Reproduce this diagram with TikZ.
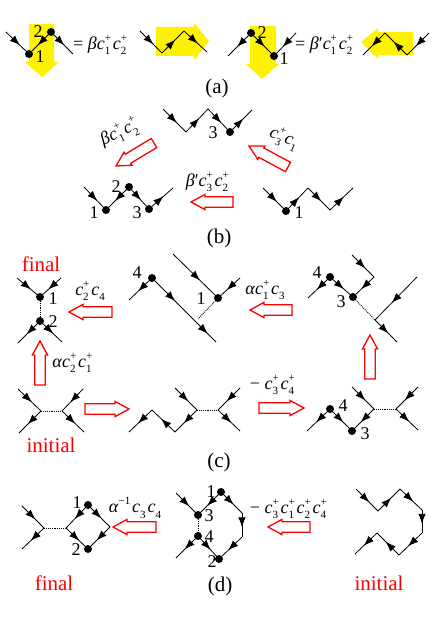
\documentclass[tikz,border=0pt]{standalone}
\usepackage{fontspec}
\setmainfont{Liberation Serif}
\usetikzlibrary{arrows.meta,decorations.markings,calc}
\newcommand\subc[1]{\textit{c}\raisebox{-.3em}{\fontsize{11}{11}\selectfont #1}\hspace{.1em}}
\newcommand\sst[2]{\textit{c}\rlap{\raisebox{.45em}{\fontsize{11}{11}\selectfont #1}}\raisebox{-.3em}{\fontsize{11}{11}\selectfont #2}\hspace{.14em}}
\newcommand\Gr[1]{\textit{#1}}
\newcommand\hollow[2]{%
  \coordinate (ta) at (#1); \coordinate (ti) at (#2);
  \coordinate (ba) at ($(ti)!14pt!(ta)$);
  \draw[redarrow] ($(ta)!5.3pt!90:(ti)$) -- ($(ba)!5.3pt!90:(ti)$) -- ($(ba)!7.6pt!90:(ti)$) -- (ti)
    -- ($(ba)!7.6pt!-90:(ti)$) -- ($(ba)!5.3pt!-90:(ti)$) -- ($(ta)!5.3pt!-90:(ti)$) -- cycle;}
\newcommand\flows[1]{\foreach \p/\q in {#1}{\draw[flow] (\p) -- (\q);}}
\tikzset{
  x=1pt,y=-1pt,
  flow/.style={line width=.8pt,postaction={decorate},decoration={markings,mark=at position .6 with {\arrow{Latex[length=10pt,width=7.5pt]}}}},
  plain/.style={line width=.8pt},
  link/.style={line width=.9pt,densely dotted},
  redarrow/.style={draw=red,line width=1.3pt,fill=white,line join=miter},
  yel/.style={fill=yellow,draw=none},
  dot/.style={circle,fill=black,inner sep=0pt,minimum size=8pt},
  num/.style={font=\fontsize{18}{18}\selectfont,inner sep=0pt},
  eqn/.style={font=\fontsize{18}{18}\selectfont,inner sep=0pt},
  captext/.style={font=\fontsize{21}{21}\selectfont,inner sep=0pt},
  tag/.style={font=\fontsize{21}{21}\selectfont,text=red,inner sep=0pt},
}
\begin{document}
\begin{tikzpicture}
\useasboundingbox (0,0) rectangle (436,617);
% ---------- (a) yellow arrows
\fill[yel] (29,24)--(54,24)--(54,62)--(59,62)--(42,77)--(25,62)--(29,62)--cycle;
\fill[yel] (156,27)--(194,27)--(194,23)--(209,41)--(194,60)--(194,56)--(156,56)--cycle;
\fill[yel] (250,26)--(276,26)--(276,64)--(279,64)--(262,79)--(246,64)--(250,64)--cycle;
\fill[yel] (413,32)--(378,32)--(378,28)--(361,42)--(378,59)--(378,55)--(413,55)--cycle;
% ---------- (a) graphs
\coordinate (a1) at (6,32); \coordinate (a2) at (29,54); \coordinate (a3) at (51,32); \coordinate (a4) at (73,54);
\flows{a1/a2,a3/a2,a3/a4}
\node[dot] (a2d) at (a2) {}; \node[dot] (a3d) at (a3) {};
\node[num] at (38,32) {2}; \node[num] at (40,57) {1};
\node[eqn,anchor=west] (ea) at (73,45) {= \Gr{β}\sst{+}{1}\sst{+}{2}};
\coordinate (b1) at (140,31); \coordinate (b2) at (162,53); \coordinate (b3) at (184,31); \coordinate (b4) at (207,52);
\flows{b1/b2,b2/b3,b3/b4}
\coordinate (c1) at (228,56); \coordinate (c2) at (251,33); \coordinate (c3) at (274,56); \coordinate (c4) at (296,33);
\flows{c2/c1,c2/c3,c4/c3}
\node[dot] (c2d) at (c2) {}; \node[dot] (c3d) at (c3) {};
\node[num] at (262,33) {2}; \node[num] at (284,59) {1};
\node[eqn,anchor=west] (eb) at (295,45) {= \textit{β}′\sst{+}{1}\sst{+}{2}};
\coordinate (d1) at (363,55); \coordinate (d2) at (385,33); \coordinate (d3) at (407,55); \coordinate (d4) at (429,33);
\flows{d2/d1,d3/d2,d4/d3}
\node[captext] at (217,88) {(a)};
% ---------- (b)
\coordinate (e1) at (163,109); \coordinate (e2) at (186,132); \coordinate (e3) at (208,109); \coordinate (e4) at (230,132); \coordinate (e5) at (252,110);
\flows{e1/e2,e2/e3,e3/e4,e4/e5}
\node[dot] (e4d) at (e4) {};
\node[num] at (213,133) {3};
\coordinate (f1) at (84,187); \coordinate (f2) at (106,210); \coordinate (f3) at (129,187); \coordinate (f4) at (149,209); \coordinate (f5) at (173,188);
\flows{f1/f2,f3/f2,f3/f4,f4/f5}
\node[dot] (f2d) at (f2) {}; \node[dot] (f3d) at (f3) {}; \node[dot] (f4d) at (f4) {};
\node[num] at (94,213) {1}; \node[num] at (116,187) {2}; \node[num] at (137,213) {3};
\coordinate (g1) at (263,188); \coordinate (g2) at (286,211); \coordinate (g3) at (308,188); \coordinate (g4) at (330,210); \coordinate (g5) at (353,188);
\flows{g1/g2,g2/g3,g3/g4,g4/g5}
\node[dot] (g2d) at (g2) {};
\node[num] at (299,213) {1};
\hollow{154,143}{116,166}
\hollow{288,167}{249,146}
\hollow{233,202}{191,202}
\node[eqn,rotate=25] at (119,133) {\Gr{β}\sst{+}{1}\sst{+}{2}};
\node[eqn,rotate=-22] at (284,138) {\sst{+}{3}\subc{1}};
\node[eqn] at (207,182) {\textit{β}′\sst{+}{3}\sst{+}{2}};
\node[captext] at (219,238) {(b)};
% ---------- (c) top row
\coordinate (h1) at (17,278); \coordinate (h2) at (40,297); \coordinate (h3) at (61,278); \coordinate (h4) at (40,321); \coordinate (h5) at (18,343); \coordinate (h6) at (62,342);
\flows{h1/h2,h3/h2,h4/h5,h4/h6}
\draw[link] (h2) -- (h4);
\node[dot] (h2d) at (h2) {}; \node[dot] (h4d) at (h4) {};
\node[num] at (53,299) {1}; \node[num] at (53,322) {2};
\node[tag] at (41,264) {final};
\hollow{112,312}{69,312}
\node[eqn] at (90,291) {\sst{+}{2}\subc{4}};
\hollow{40,385}{40,341}
\node[eqn] at (72,363) {\Gr{α}\sst{+}{2}\sst{+}{1}};
\coordinate (i1) at (129,300); \coordinate (i2) at (152,278); \coordinate (i3) at (216,342); \coordinate (i4) at (173,254); \coordinate (i5) at (218,298); \coordinate (i6) at (240,278); \coordinate (i7) at (198,319);
\draw[flow] (i2) -- (i1);
\draw[plain,postaction={decorate},decoration={markings,mark=at position .36 with {\arrow{Latex[length=10pt,width=7.5pt]}},mark=at position .87 with {\arrow{Latex[length=10pt,width=7.5pt]}}}] (i2) -- (i3);
\flows{i4/i5,i6/i5}
\draw[link] (i5) -- (i7);
\node[dot] (i2d) at (i2) {}; \node[dot] (i5d) at (i5) {};
\node[num] at (137,273) {4}; \node[num] at (201,299) {1};
\hollow{292,310}{250,310}
\node[eqn] at (265,290) {\Gr{α}\sst{+}{1}\subc{3}};
\coordinate (j1) at (308,298); \coordinate (j2) at (330,277); \coordinate (j3) at (353,297); \coordinate (j4) at (374,277); \coordinate (j5) at (352,255); \coordinate (j6) at (375,320); \coordinate (j7) at (417,277); \coordinate (j8) at (397,342);
\flows{j2/j1,j2/j3,j4/j3,j5/j4,j7/j6,j6/j8}
\draw[link] (j3) -- (j6);
\node[dot] (j2d) at (j2) {}; \node[dot] (j3d) at (j3) {};
\node[num] at (317,273) {4}; \node[num] at (341,302) {3};
\hollow{370,379}{370,335}
% ---------- (c) bottom row
\coordinate (k1) at (18,389); \coordinate (k2) at (41,411); \coordinate (k3) at (83,389); \coordinate (k4) at (62,411); \coordinate (k5) at (19,433); \coordinate (k6) at (84,432);
\flows{k1/k2,k3/k4,k2/k5,k4/k6}
\draw[link] (k2) -- (k4);
\node[tag] at (51,445) {initial};
\hollow{85,409}{129,409}
\coordinate (l1) at (129,432); \coordinate (l2) at (152,410); \coordinate (l3) at (175,432); \coordinate (l4) at (197,410); \coordinate (l5) at (175,388); \coordinate (l6) at (218,410); \coordinate (l7) at (240,388); \coordinate (l8) at (240,431);
\flows{l2/l1,l3/l2,l4/l3,l5/l4,l7/l6,l6/l8}
\draw[link] (l4) -- (l6);
\hollow{259,408}{304,408}
\node[eqn] at (272,385) {− \sst{+}{3}\sst{+}{4}};
\coordinate (m1) at (307,431); \coordinate (m2) at (330,409); \coordinate (m3) at (352,431); \coordinate (m4) at (374,409); \coordinate (m5) at (352,387); \coordinate (m6) at (396,409); \coordinate (m7) at (418,387); \coordinate (m8) at (418,430);
\flows{m2/m1,m2/m3,m4/m3,m5/m4,m7/m6,m6/m8}
\draw[link] (m4) -- (m6);
\node[dot] (m2d) at (m2) {}; \node[dot] (m3d) at (m3) {};
\node[num] at (343,406) {4}; \node[num] at (365,434) {3};
\node[captext] at (219,462) {(c)};
% ---------- (d)
\coordinate (n1) at (22,506); \coordinate (n2) at (44,528); \coordinate (n3) at (22,549); \coordinate (n4) at (66,528); \coordinate (n5) at (88,505); \coordinate (n6) at (110,527); \coordinate (n7) at (88,549);
\flows{n1/n2,n2/n3,n5/n4,n5/n6,n6/n7,n4/n7}
\draw[link] (n2) -- (n4);
\node[dot] (n5d) at (n5) {}; \node[dot] (n7d) at (n7) {};
\node[num] at (77,503) {1}; \node[num] at (76,550) {2};
\node[tag] at (54,583) {final};
\hollow{156,527}{113,527}
\node[eqn] at (135,508) {\textit{α}\raisebox{.45em}{\fontsize{11}{11}\selectfont −1}\hspace{.1em}\subc{3}\subc{4}};
\coordinate (o1) at (176,493); \coordinate (o2) at (198,515); \coordinate (o3) at (221,492); \coordinate (o4) at (198,536); \coordinate (o5) at (176,558); \coordinate (o6) at (219,559); \coordinate (o7) at (242,513); \coordinate (o8) at (242,537);
\flows{o1/o2,o3/o2,o4/o5,o4/o6,o3/o7,o7/o8,o8/o6}
\draw[link] (o2) -- (o4);
\node[dot] (o3d) at (o3) {}; \node[dot] (o2d) at (o2) {}; \node[dot] (o4d) at (o4) {}; \node[dot] (o6d) at (o6) {};
\node[num] at (211,492) {1}; \node[num] at (209,516) {3}; \node[num] at (209,537) {4}; \node[num] at (212,562) {2};
\node[captext] at (220,586) {(d)};
\hollow{310,527}{268,527}
\node[eqn] at (288,509) {− \sst{+}{3}\sst{+}{1}\sst{+}{2}\sst{+}{4}};
\coordinate (q1) at (356,489); \coordinate (q2) at (378,511); \coordinate (q3) at (400,489); \coordinate (q4) at (422,510); \coordinate (q5) at (422,533); \coordinate (q6) at (399,555); \coordinate (q7) at (377,533); \coordinate (q8) at (355,554);
\flows{q1/q2,q2/q3,q3/q4,q4/q5,q5/q6,q6/q7,q7/q8}
\node[tag] at (379,583) {initial};
\end{tikzpicture}
\end{document}
